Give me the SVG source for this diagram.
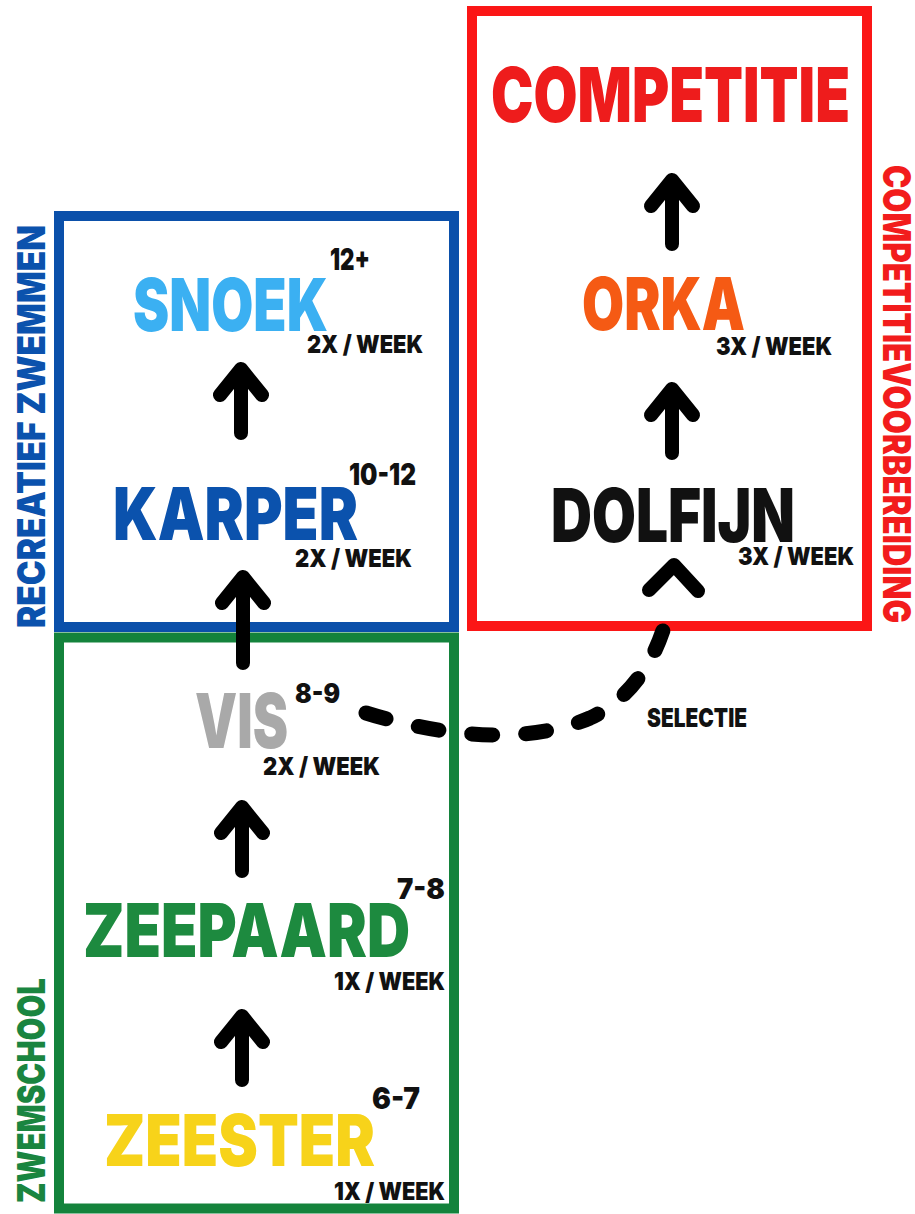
<svg xmlns="http://www.w3.org/2000/svg" width="915" height="1214" viewBox="0 0 915 1214">
  <style>
    .frame { fill: none; stroke-width: 10; }
    .title { font-family: Inter, "DejaVu Sans", "Liberation Sans", sans-serif; font-weight: 900; }
    .small { font-family: Inter, "DejaVu Sans", "Liberation Sans", sans-serif; font-weight: 900; fill: #111; }
    .side { font-family: Inter, "DejaVu Sans", "Liberation Sans", sans-serif; font-weight: 900; font-size: 38px; }
    .arrow { fill: none; stroke: #000; stroke-width: 14; stroke-linecap: round; stroke-linejoin: round; }
    .dash { fill: none; stroke: #000; stroke-width: 15; stroke-linecap: round; stroke-dasharray: 21 33; }
  </style>
  <defs>
    <!-- upward arrow: tip at origin -->
    <path id="up" d="M0 0 L0 64 M-21 26 L0 0 L21 26"/>
  </defs>
  <rect width="915" height="1214" fill="#fff"/>

  <!-- group frames -->
  <g id="recreatief">
    <rect class="frame" x="59" y="216" width="395" height="411" stroke="#0b50aa"/>
    <text class="side" fill="#0b52ad" transform="translate(45,628) rotate(-90)" textLength="403" lengthAdjust="spacingAndGlyphs">RECREATIEF ZWEMMEN</text>
  </g>
  <g id="zwemschool">
    <rect class="frame" x="59" y="637.5" width="395" height="571" stroke="#14833c"/>
    <text class="side" fill="#1a8540" transform="translate(45,1203) rotate(-90)" textLength="225" lengthAdjust="spacingAndGlyphs">ZWEMSCHOOL</text>
  </g>
  <g id="competitievoorbereiding">
    <rect class="frame" x="472" y="11" width="395" height="615" stroke="#fb1616"/>
    <text class="side" fill="#f21c1c" transform="translate(883,165) rotate(90)" textLength="458" lengthAdjust="spacingAndGlyphs">COMPETITIEVOORBEREIDING</text>
  </g>

  <!-- levels -->
  <g id="snoek">
    <text class="title" x="133" y="331" font-size="73" fill="#3bb0f2" textLength="195" lengthAdjust="spacingAndGlyphs">SNOEK</text>
    <text class="small" x="330" y="270" font-size="30" textLength="40" lengthAdjust="spacingAndGlyphs">12+</text>
    <text class="small" x="307" y="353" font-size="25" textLength="116" lengthAdjust="spacingAndGlyphs">2X / WEEK</text>
  </g>
  <g id="karper">
    <text class="title" x="113" y="540" font-size="73" fill="#0b52ad" textLength="245" lengthAdjust="spacingAndGlyphs">KARPER</text>
    <text class="small" x="349" y="485" font-size="30" textLength="67" lengthAdjust="spacingAndGlyphs">10-12</text>
    <text class="small" x="295" y="567" font-size="25" textLength="117" lengthAdjust="spacingAndGlyphs">2X / WEEK</text>
  </g>
  <g id="vis">
    <text class="title" x="195" y="748" font-size="75" fill="#a9a9a9" textLength="93" lengthAdjust="spacingAndGlyphs">VIS</text>
    <text class="small" x="295" y="703" font-size="27" textLength="45" lengthAdjust="spacingAndGlyphs">8-9</text>
    <text class="small" x="263" y="775" font-size="25" textLength="117" lengthAdjust="spacingAndGlyphs">2X / WEEK</text>
  </g>
  <g id="zeepaard">
    <text class="title" x="83" y="957" font-size="74" fill="#1d8a3f" textLength="327" lengthAdjust="spacingAndGlyphs">ZEEPAARD</text>
    <text class="small" x="397" y="899" font-size="29" textLength="48" lengthAdjust="spacingAndGlyphs">7-8</text>
    <text class="small" x="334" y="990" font-size="24" textLength="111" lengthAdjust="spacingAndGlyphs">1X / WEEK</text>
  </g>
  <g id="zeester">
    <text class="title" x="104" y="1166" font-size="72" fill="#f7d31a" textLength="271" lengthAdjust="spacingAndGlyphs">ZEESTER</text>
    <text class="small" x="372" y="1109" font-size="30" textLength="48" lengthAdjust="spacingAndGlyphs">6-7</text>
    <text class="small" x="334" y="1200" font-size="24" textLength="111" lengthAdjust="spacingAndGlyphs">1X / WEEK</text>
  </g>
  <g id="competitie">
    <text class="title" x="491" y="122" font-size="76" fill="#ee1c1c" textLength="359" lengthAdjust="spacingAndGlyphs">COMPETITIE</text>
  </g>
  <g id="orka">
    <text class="title" x="582" y="330" font-size="73" fill="#f55a14" textLength="163" lengthAdjust="spacingAndGlyphs">ORKA</text>
    <text class="small" x="716" y="355" font-size="25" textLength="116" lengthAdjust="spacingAndGlyphs">3X / WEEK</text>
  </g>
  <g id="dolfijn">
    <text class="title" x="551" y="542" font-size="74" fill="#111" textLength="244" lengthAdjust="spacingAndGlyphs">DOLFIJN</text>
    <text class="small" x="738" y="565" font-size="25" textLength="116" lengthAdjust="spacingAndGlyphs">3X / WEEK</text>
  </g>

  <!-- connectors -->
  <g id="connectors">
    <use href="#up" class="arrow" x="241" y="369"/>
    <path class="arrow" d="M243 577 L243 663 M222 603 L243 577 L264 603"/>
    <use href="#up" class="arrow" x="242" y="807"/>
    <use href="#up" class="arrow" x="242" y="1016"/>
    <use href="#up" class="arrow" x="672" y="180"/>
    <use href="#up" class="arrow" x="672" y="389"/>
    <!-- selection path from VIS to DOLFIJN -->
    <path class="dash" d="M366 713 C430 733 520 748 590 718 C640 695 665 640 670 600"/>
    <path class="arrow" d="M649 590 L674 565 L698 591"/>
    <text class="small" x="647" y="727" font-size="26" textLength="100" lengthAdjust="spacingAndGlyphs">SELECTIE</text>
  </g>
</svg>
